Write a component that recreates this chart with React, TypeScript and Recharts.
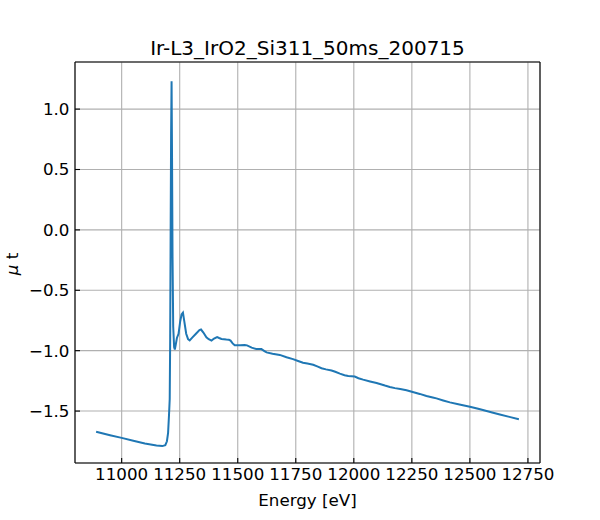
import { LineChart, Line, XAxis, YAxis, CartesianGrid, ReferenceLine } from 'recharts';

const chartTitle = 'Ir-L3_IrO2_Si311_50ms_200715';

// energy in eV
const energy = [
    10890, 10950, 11000, 11050, 11100, 11150, 11175, 11188, 11195, 11200,
    11204, 11207, 11209, 11211, 11213, 11215, 11217, 11219, 11222, 11226,
    11229, 11233, 11238, 11245, 11252, 11258, 11264, 11270, 11278, 11286,
    11293, 11305, 11320, 11335, 11342, 11352, 11365, 11375, 11387, 11398,
    11411, 11420, 11430, 11451, 11462, 11469, 11478, 11487, 11510, 11530,
    11540, 11560, 11581, 11602, 11615, 11624, 11650, 11681, 11710, 11738,
    11760, 11781, 11800, 11825, 11845, 11861, 11880, 11904, 11920, 11940,
    11960, 11976, 12004, 12020, 12040, 12070, 12098, 12134, 12155, 12177,
    12200, 12227, 12250, 12284, 12313, 12340, 12356, 12385, 12414, 12450,
    12500, 12540, 12572, 12600, 12629, 12670, 12711,
];

// mu t
const muT = [
    -1.672, -1.700, -1.722, -1.745, -1.768, -1.785, -1.790, -1.783, -1.750, -1.680,
    -1.530, -1.400, -0.900, 0.000, 0.800, 1.230, 0.600, -0.200, -0.800, -0.970,
    -0.990, -0.950, -0.895, -0.860, -0.760, -0.700, -0.685, -0.760, -0.860, -0.905,
    -0.915, -0.890, -0.860, -0.830, -0.825, -0.850, -0.889, -0.905, -0.917, -0.900,
    -0.887, -0.895, -0.903, -0.908, -0.910, -0.917, -0.940, -0.956, -0.955, -0.953,
    -0.956, -0.975, -0.987, -0.987, -1.003, -1.014, -1.025, -1.035, -1.055, -1.070,
    -1.085, -1.100, -1.107, -1.117, -1.132, -1.145, -1.155, -1.164, -1.175, -1.190,
    -1.203, -1.210, -1.214, -1.228, -1.240, -1.255, -1.268, -1.289, -1.300, -1.310,
    -1.318, -1.328, -1.340, -1.358, -1.375, -1.388, -1.395, -1.412, -1.428, -1.444,
    -1.464, -1.483, -1.500, -1.514, -1.528, -1.548, -1.567,
];

const xTicks = [11000, 11250, 11500, 11750, 12000, 12250, 12500, 12750];
const yTicks = [-1.5, -1.0, -0.5, 0.0, 0.5, 1.0];
const xDomain = [10799, 12802];
const yDomain = [-1.93, 1.39];

const font = 'DejaVu Sans, sans-serif';
const tickFont = { fill: '#000', fontSize: 16.7, fontFamily: font };
const spine = { stroke: '#000', strokeWidth: 1.1 };

export default function App() {
    const data = energy.map((e, i) => ({ e, mu: muT[i] }));

    return (
        <div style={{ position: 'absolute', left: 0, top: 0, width: 600, height: 520, background: '#fff' }}>
            <LineChart
                width={600}
                height={520}
                data={data}
                margin={{ top: 62, right: 60, bottom: 0, left: 0 }}
            >
                <CartesianGrid stroke="#b0b0b0" strokeWidth={1.1} />
                <XAxis
                    dataKey="e"
                    type="number"
                    domain={xDomain}
                    ticks={xTicks}
                    allowDataOverflow
                    height={57}
                    tick={tickFont}
                    tickSize={-5}
                    tickMargin={10}
                    tickLine={spine}
                    axisLine={spine}
                    label={{ value: 'Energy [eV]', position: 'insideBottom', offset: 14, fill: '#000', fontSize: 16.7, fontFamily: font }}
                />
                <YAxis
                    type="number"
                    domain={yDomain}
                    ticks={yTicks}
                    allowDataOverflow
                    width={75}
                    tick={tickFont}
                    tickFormatter={(v: number) => v.toFixed(1).replace('-', '\u2212')}
                    tickSize={-5}
                    tickMargin={10.5}
                    tickLine={spine}
                    axisLine={spine}
                    label={{
                        content: () => (
                            <text
                                x={12}
                                y={264}
                                transform="rotate(-90 12 264)"
                                textAnchor="middle"
                                dominantBaseline="central"
                                fill="#000"
                                fontSize={16.7}
                                fontFamily={font}
                            >
                                <tspan fontStyle="italic">μ</tspan> t
                            </text>
                        ),
                    }}
                />
                {/* top and right spines */}
                <ReferenceLine
                    y={yDomain[1]}
                    {...spine}
                    label={{
                        content: () => (
                            <text x={307.5} y={55} textAnchor="middle" fill="#000" fontSize={20} fontFamily={font}>
                                {chartTitle}
                            </text>
                        ),
                    }}
                />
                <ReferenceLine x={xDomain[1]} {...spine} />
                <Line
                    type="linear"
                    dataKey="mu"
                    stroke="#1f77b4"
                    strokeWidth={2}
                    dot={false}
                    isAnimationActive={false}
                />
            </LineChart>
        </div>
    );
}
